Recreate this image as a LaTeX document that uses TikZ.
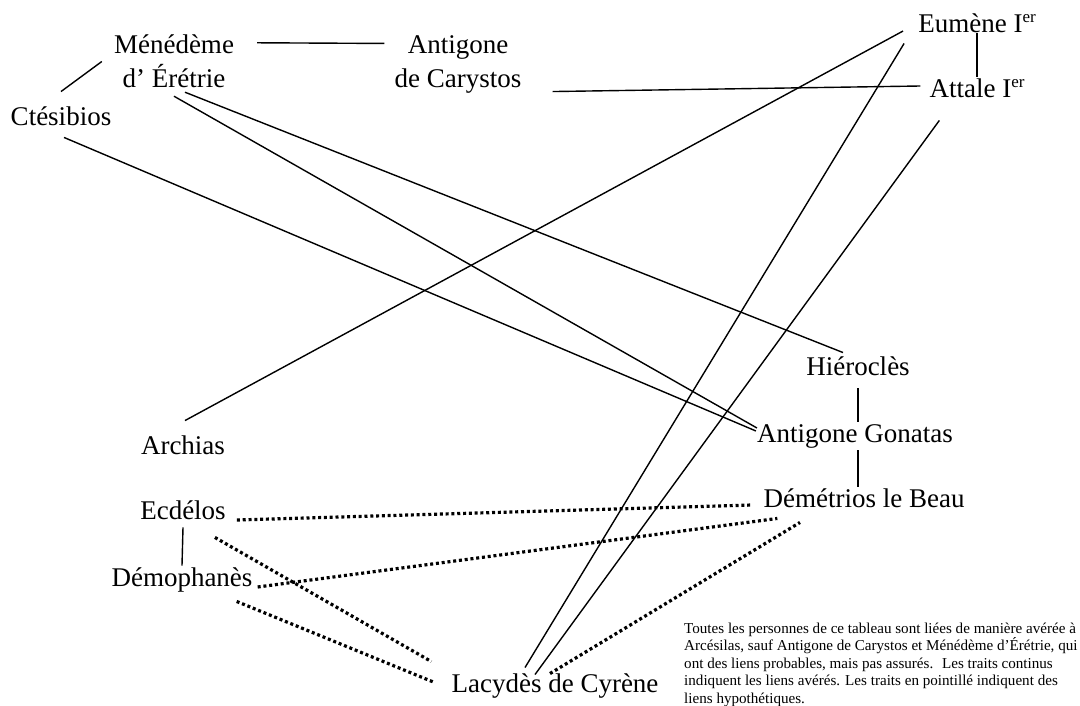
\documentclass[tikz,border=0pt]{standalone}
\usepackage{fontspec}
\setmainfont{Liberation Serif}
\newcommand\Ier{I\raisebox{10pt}{\fontsize{17}{17}\selectfont er}}

\begin{document}
\begin{tikzpicture}[x=1pt,y=-1pt,
  person/.style={font=\fontsize{27}{34}\selectfont,inner sep=2pt,text height=19pt,text depth=5.5pt},
  pair/.style={font=\fontsize{27}{34}\selectfont,inner sep=2pt,align=center},
  link/.style={line width=1.4pt},
  guess/.style={line width=3.2pt,dash pattern=on 3pt off 2.8pt}]
\useasboundingbox (0,0) rectangle (1080,706);

\node[pair] (mene) at (174,61.5) {Ménédème\\d’ Érétrie};
\node[pair] (antc) at (458,64.5) {Antigone\\de Carystos};
\node[person] (ctes) at (61,119) {Ctésibios};
\node[person] (eume) at (977,26) {Eumène \Ier};
\node[person] (atta) at (977,91) {Attale \Ier};
\node[person] (hier) at (858,369) {Hiéroclès};
\node[person] (gona) at (855,436) {Antigone Gonatas};
\node[person] (deme) at (864,501) {Démétrios le Beau};
\node[person] (arch) at (183,448) {Archias};
\node[person] (ecde) at (183,513) {Ecdélos};
\node[person] (demo) at (182,580) {Démophanès};
\node[person] (lacy) at (555,686) {Lacydès de Cyrène};
\node[font=\fontsize{15.1}{17.5}\selectfont,align=left,inner sep=0pt,anchor=north west] (note) at (684,622.5)
  {Toutes les personnes de ce tableau sont liées de manière avérée à\\
   Arcésilas, sauf Antigone de Carystos et Ménédème d’Érétrie, qui\\
   ont des liens probables, mais pas assurés.~ Les traits continus\\
   indiquent les liens avérés. Les traits en pointillé indiquent des\\
   liens hypothétiques.};

% liens averes
\draw[link] ([yshift=13pt]ctes.north) -- ([xshift=-10pt]mene.west);
\draw[link] ([xshift=21pt,yshift=-10pt]mene.north east) -- ([xshift=-8pt,yshift=-10pt]antc.north west);
\draw[link] ([xshift=29pt,yshift=4pt]antc.south east) -- ([xshift=-7pt,yshift=5pt]atta.west);
\draw[link] (eume.base) -- (atta.north);
\draw[link] ([xshift=11pt,yshift=-2pt]mene.south) -- ([xshift=-15pt,yshift=2pt]hier.north);
\draw[link] ([yshift=-6pt]mene.south) -- ([xshift=2pt,yshift=8pt]gona.west);
\draw[link] ([xshift=3pt,yshift=-4pt]ctes.south) -- ([xshift=1pt,yshift=5pt]gona.west);
\draw[link] ([xshift=2pt,yshift=13pt]arch.north) -- ([xshift=-13pt,yshift=-5pt]eume.west);
\draw[link] ([xshift=-30pt,yshift=4pt]lacy.north) -- ([xshift=-12pt,yshift=-3pt]eume.south west);
\draw[link] ([xshift=-20pt,yshift=-3pt]lacy.north) -- ([xshift=12pt,yshift=-15pt]atta.south west);
\draw[link] ([yshift=-5pt]hier.south) -- (hier.south |- gona.north);
\draw[link] (gona.south -| hier.south) -- (deme.north -| hier.south);
\draw[link] (ecde.south) -- (demo.north);

% liens hypothetiques
\draw[guess] ([xshift=9pt,yshift=-7pt]ecde.east) -- ([xshift=-9pt,yshift=-4pt]deme.west);
\draw[guess] ([xshift=-13pt,yshift=-10pt]ecde.south east) -- ([xshift=-18pt,yshift=10pt]lacy.north west);
\draw[guess] ([xshift=3pt,yshift=-7pt]demo.east) -- ([xshift=16pt,yshift=-3pt]deme.south west);
\draw[guess] ([xshift=-18pt,yshift=-7pt]demo.south east) -- ([xshift=-16pt,yshift=4pt]lacy.west);
\draw[guess] ([xshift=-5pt,yshift=-2pt]lacy.north) -- ([xshift=-64pt,yshift=-7pt]deme.south);
\end{tikzpicture}
\end{document}
